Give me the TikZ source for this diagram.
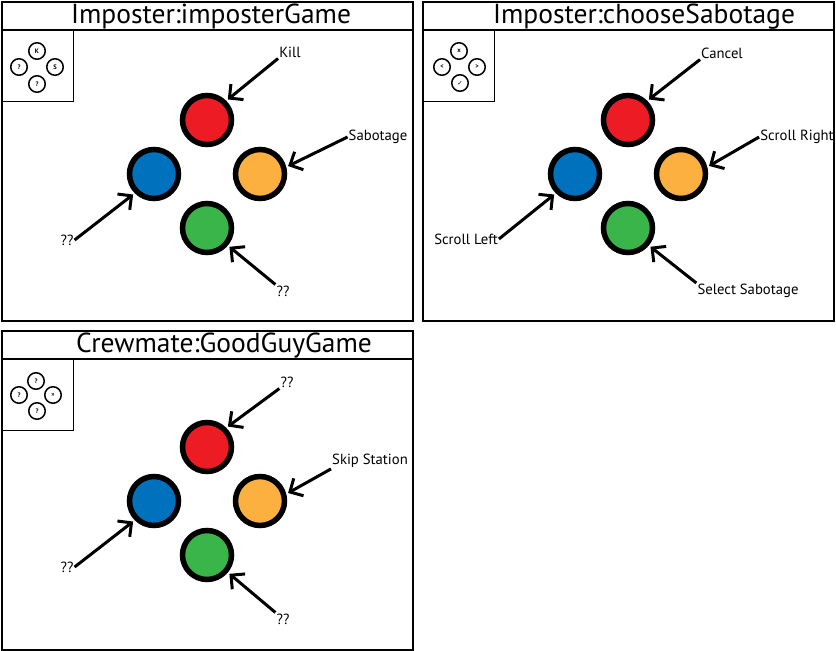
\documentclass[tikz,border=0pt]{standalone}
\usepackage{fontspec}
\setmainfont{PT Sans}
\newfontfamily\symfont{DejaVu Sans}
\usetikzlibrary{arrows.meta}

\definecolor{padred}{HTML}{ED1C24}
\definecolor{padblue}{HTML}{0071BC}
\definecolor{padorange}{HTML}{FBB040}
\definecolor{padgreen}{HTML}{39B54A}

\begin{document}
\begin{tikzpicture}[x=1pt,y=-1pt,
        frame/.style={draw,line width=1.5pt},
        keybox/.style={draw,line width=1pt},
        button/.style={circle,draw,line width=5.5pt,minimum size=49pt,inner sep=0pt},
        key/.style={circle,draw,line width=1.5pt,minimum size=16.5pt,inner sep=0pt,font=\bfseries\fontsize{6.5}{6.5}\selectfont},
        tag/.style={font=\fontsize{14.7}{16}\selectfont,inner sep=1pt},
        heading/.style={anchor=base,font=\fontsize{27.5}{29}\selectfont},
        arr/.style={line width=3pt,shorten >=2pt,-{Straight Barb[length=10pt,width=20pt]}}]
    \useasboundingbox (0,0) rectangle (836,651);

    % Imposter: imposterGame
    \draw[frame] (2,2) rectangle (413,321);
    \draw[frame] (2,30) -- (413,30);
    \node[heading] (title1) at (211,23) {Imposter:imposterGame};
    \draw[keybox] (2,30) rectangle (73,101);
    \node[key] (k1n) at (37,51) {K};
    \node[key] (k1w) at (19,67) {?};
    \node[key] (k1e) at (55,67) {S};
    \node[key] (k1s) at (37,84) {?};
    \node[button,fill=padred] (red1) at (207,120) {};
    \node[button,fill=padblue] (blue1) at (154,174) {};
    \node[button,fill=padorange] (orange1) at (260,174) {};
    \node[button,fill=padgreen] (green1) at (207,228) {};
    \node[tag] (kill) at (290,52) {Kill};
    \node[tag] (sabotage) at (378,137) {Sabotage};
    \node[tag] (unk1w) at (67,240) {??};
    \node[tag] (unk1s) at (283,291) {??};
    \draw[arr] (kill.south west) -- (red1.45);
    \draw[arr] (sabotage.west) -- (orange1.15);
    \draw[arr] (unk1w.east) -- (blue1.225);
    \draw[arr] (unk1s.north west) -- (green1.320);

    % Imposter: chooseSabotage
    \draw[frame] (423,2) rectangle (834,321);
    \draw[frame] (423,30) -- (834,30);
    \node[heading] (title2) at (644,23) {Imposter:chooseSabotage};
    \draw[keybox] (423,30) rectangle (494,101);
    \node[key] (k2n) at (459,51) {x};
    \node[key] (k2w) at (442,67) {<};
    \node[key] (k2e) at (477,67) {>};
    \node[key] (k2s) at (460,83) {\symfont ✓};
    \node[button,fill=padred] (red2) at (628,120) {};
    \node[button,fill=padblue] (blue2) at (575,174) {};
    \node[button,fill=padorange] (orange2) at (681,174) {};
    \node[button,fill=padgreen] (green2) at (628,228) {};
    \node[tag] (cancel) at (722,53) {Cancel};
    \node[tag] (scrollright) at (797,137) {Scroll Right};
    \node[tag] (scrollleft) at (466,239) {Scroll Left};
    \node[tag] (select) at (748,291) {Select Sabotage};
    \draw[arr] (cancel.south west) -- (red2.45);
    \draw[arr] (scrollright.west) -- (orange2.15);
    \draw[arr] (scrollleft.east) -- (blue2.225);
    \draw[arr] (select.north west) -- (green2.320);

    % Crewmate: GoodGuyGame
    \draw[frame] (2,331) rectangle (413,650);
    \draw[frame] (2,359) -- (413,359);
    \node[heading] (title3) at (224,352) {Crewmate:GoodGuyGame};
    \draw[keybox] (2,359) rectangle (73,430);
    \node[key] (k3n) at (36,381) {?};
    \node[key] (k3w) at (19,395) {?};
    \node[key] (k3e) at (53,395) {>>};
    \node[key] (k3s) at (37,411) {?};
    \node[button,fill=padred] (red3) at (207,447) {};
    \node[button,fill=padblue] (blue3) at (154,501) {};
    \node[button,fill=padorange] (orange3) at (260,501) {};
    \node[button,fill=padgreen] (green3) at (207,555) {};
    \node[tag] (unk3n) at (287,382) {??};
    \node[tag] (skip) at (370,461) {Skip Station};
    \node[tag] (unk3w) at (67,567) {??};
    \node[tag] (unk3s) at (283,619) {??};
    \draw[arr] (unk3n.south west) -- (red3.45);
    \draw[arr] (skip.south west) -- (orange3.15);
    \draw[arr] (unk3w.east) -- (blue3.225);
    \draw[arr] (unk3s.north west) -- (green3.320);
\end{tikzpicture}
\end{document}
